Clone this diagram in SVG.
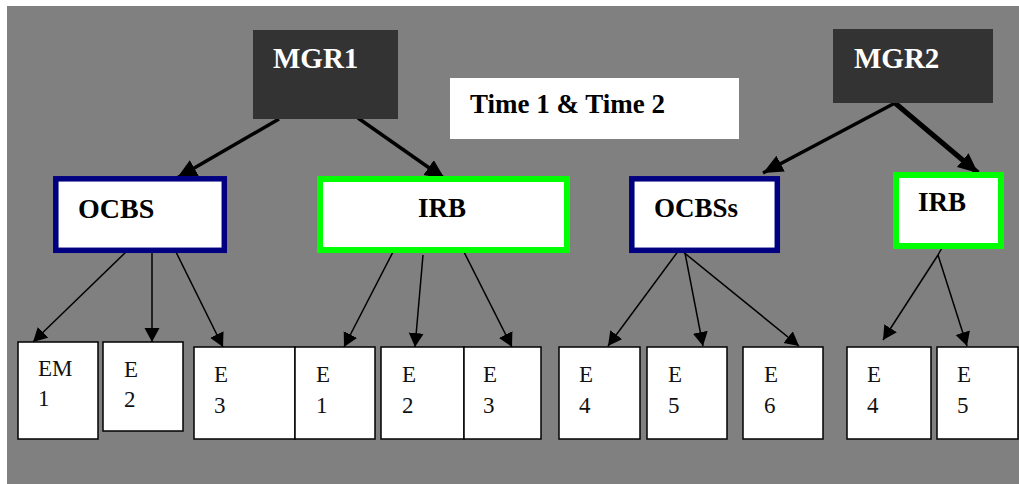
<svg xmlns="http://www.w3.org/2000/svg" width="1019" height="484" viewBox="0 0 1019 484">
<style>
.bg{fill:#808080}
.mgr{fill:#333333}
.mt{fill:#ffffff;font-family:"Liberation Serif","Times New Roman",serif;font-weight:bold;font-size:29px}
.bt{fill:#000;font-family:"Liberation Serif","Times New Roman",serif;font-weight:bold;font-size:27px}
.ocbs{fill:#ffffff;stroke:#000080;stroke-width:5.5}
.irb{fill:#ffffff;stroke:#00ff00;stroke-width:6}
.emp{fill:#ffffff;stroke:#000;stroke-width:1.5}
.et{fill:#111;font-family:"Liberation Serif","Times New Roman",serif;font-size:23px}
.thick{stroke:#000;stroke-width:3.5;fill:none}
.thicker{stroke:#000;stroke-width:5;fill:none}
.thin{stroke:#000;stroke-width:1.5;fill:none}
</style>
<defs>
<marker id="ah" markerUnits="userSpaceOnUse" markerWidth="22" markerHeight="20" refX="20" refY="9" orient="auto"><path d="M0,0 L20,9 L0,18 z" fill="#000"/></marker>
<marker id="ahs" markerUnits="userSpaceOnUse" markerWidth="16" markerHeight="16" refX="14" refY="7.5" orient="auto"><path d="M0,0 L14,7.5 L0,15 z" fill="#000"/></marker>
</defs>
<rect class="bg" x="7" y="6" width="1012" height="478"/>

<g id="connectors">
<line class="thick" x1="279" y1="119" x2="177" y2="178" marker-end="url(#ah)"/>
<line class="thick" x1="358" y1="118" x2="445" y2="179" marker-end="url(#ah)"/>
<line class="thick" x1="895" y1="103" x2="763" y2="173" marker-end="url(#ah)"/>
<line class="thicker" x1="895" y1="103" x2="978" y2="173" marker-end="url(#ah)"/>
<line class="thin" x1="128" y1="250" x2="33" y2="342" marker-end="url(#ahs)"/>
<line class="thin" x1="152" y1="250" x2="152" y2="342" marker-end="url(#ahs)"/>
<line class="thin" x1="175" y1="250" x2="223" y2="347" marker-end="url(#ahs)"/>
<line class="thin" x1="394" y1="250" x2="344" y2="347" marker-end="url(#ahs)"/>
<line class="thin" x1="423" y1="255" x2="415" y2="347" marker-end="url(#ahs)"/>
<line class="thin" x1="463" y1="250" x2="512" y2="347" marker-end="url(#ahs)"/>
<line class="thin" x1="679" y1="250" x2="608" y2="346" marker-end="url(#ahs)"/>
<line class="thin" x1="685" y1="253" x2="703" y2="346" marker-end="url(#ahs)"/>
<line class="thin" x1="682" y1="251" x2="799" y2="346" marker-end="url(#ahs)"/>
<line class="thin" x1="943" y1="246" x2="938" y2="255"/>
<line class="thin" x1="938" y1="255" x2="883" y2="340" marker-end="url(#ahs)"/>
<line class="thin" x1="938" y1="255" x2="967" y2="346" marker-end="url(#ahs)"/>
</g>

<g id="mgr1"><rect class="mgr" x="253" y="30" width="145" height="89"/><text class="mt" x="273" y="68">MGR1</text></g>
<g id="time"><rect x="450" y="78" width="289" height="61" fill="#ffffff"/><text class="bt" x="470" y="113">Time 1 &amp; Time 2</text></g>
<g id="mgr2"><rect class="mgr" x="833" y="29" width="160" height="74"/><text class="mt" x="854" y="68">MGR2</text></g>

<g id="ocbs"><rect class="ocbs" x="55.8" y="178.8" width="168.5" height="71.5"/><text class="bt" x="78" y="218" style="font-size:28px">OCBS</text></g>
<g id="irb1"><rect class="irb" x="320" y="179" width="247" height="71"/><text class="bt" x="418" y="217">IRB</text></g>
<g id="ocbss"><rect class="ocbs" x="631.8" y="178.8" width="145.5" height="71.5"/><text class="bt" x="654" y="217">OCBSs</text></g>
<g id="irb2"><rect class="irb" x="896" y="175" width="105" height="71"/><text class="bt" x="918" y="211">IRB</text></g>

<g id="em1"><rect class="emp" x="18" y="342" width="80" height="97"/><text class="et" x="38" y="376">EM</text><text class="et" x="38" y="406">1</text></g>
<g id="e2a"><rect class="emp" x="103" y="342" width="80" height="89"/><text class="et" x="124" y="377">E</text><text class="et" x="124" y="407">2</text></g>
<g id="e3a"><rect class="emp" x="194" y="347" width="101" height="92"/><text class="et" x="214" y="382">E</text><text class="et" x="214" y="413">3</text></g>
<g id="e1b"><rect class="emp" x="295" y="347" width="80" height="92"/><text class="et" x="316" y="382">E</text><text class="et" x="316" y="413">1</text></g>
<g id="e2b"><rect class="emp" x="381" y="347" width="83" height="92"/><text class="et" x="402" y="382">E</text><text class="et" x="402" y="413">2</text></g>
<g id="e3b"><rect class="emp" x="464" y="347" width="77" height="92"/><text class="et" x="483" y="382">E</text><text class="et" x="483" y="413">3</text></g>
<g id="e4a"><rect class="emp" x="559" y="347" width="81" height="92"/><text class="et" x="579" y="382">E</text><text class="et" x="579" y="413">4</text></g>
<g id="e5a"><rect class="emp" x="647" y="347" width="80" height="92"/><text class="et" x="668" y="382">E</text><text class="et" x="668" y="413">5</text></g>
<g id="e6"><rect class="emp" x="743" y="347" width="80" height="92"/><text class="et" x="764" y="382">E</text><text class="et" x="764" y="413">6</text></g>
<g id="e4b"><rect class="emp" x="847" y="347" width="84" height="92"/><text class="et" x="867" y="382">E</text><text class="et" x="867" y="413">4</text></g>
<g id="e5b"><rect class="emp" x="937" y="347" width="81" height="92"/><text class="et" x="957" y="382">E</text><text class="et" x="957" y="413">5</text></g>
</svg>
